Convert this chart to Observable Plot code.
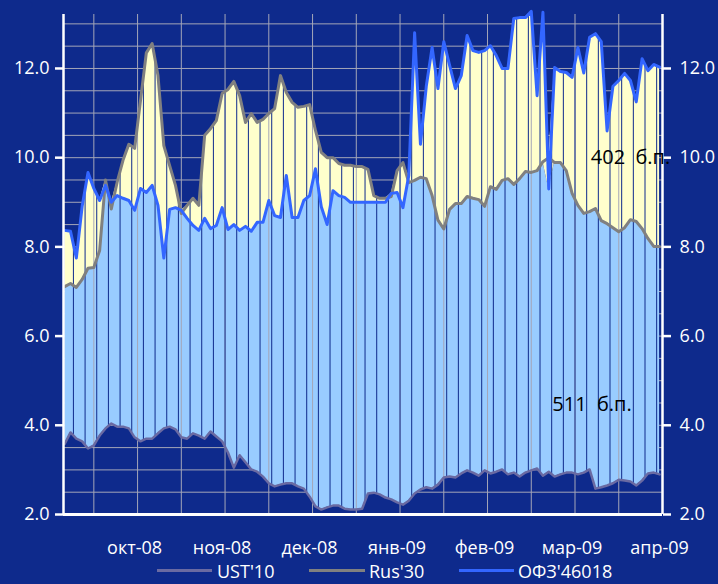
<!DOCTYPE html>
<html><head><meta charset="utf-8">
<script src="https://cdn.jsdelivr.net/npm/d3@7"></script>
<script src="https://cdn.jsdelivr.net/npm/@observablehq/plot@0.6"></script>
<style>
html,body{margin:0;padding:0;background:#0e2a8c;}
#wrap{position:relative;width:718px;height:584px;overflow:hidden;font-family:"Open Sans",sans-serif;}
#chart svg{display:block;}
#legend{position:absolute;left:0;top:560px;width:718px;height:24px;}
.sw{position:absolute;height:0;border-top:3px solid;top:9px;}
.lt{position:absolute;top:2px;color:#fff;font-size:18px;line-height:18px;white-space:nowrap;}
</style></head>
<body><div id="wrap"><div id="chart"></div><div id="legend"></div></div>
<script>
// Category axis: trading-point index; month labels and grid positions
const monthIdx = [12.5, 27.5, 42.5, 57.5, 72.5, 87.5, 102.5];
const monthLabels = ["окт-08","ноя-08","дек-08","янв-09","фев-09","мар-09","апр-09"];
const gridIdx = [5, 12.5, 20, 27.5, 35, 42.5, 50, 57.5, 65, 72.5, 80, 87.5, 95];
const yTicks = [2, 4, 6, 8, 10, 12];
const seriesNames = ["UST'10", "Rus'30", "ОФЗ'46018"];

const ust = [3.58,3.84,3.70,3.64,3.48,3.55,3.77,3.93,4.04,3.97,3.97,3.93,3.73,3.64,3.70,3.70,3.82,3.93,3.97,3.91,
3.73,3.70,3.82,3.77,3.70,3.86,3.75,3.64,3.39,3.05,3.33,3.17,3.01,2.96,2.85,2.70,2.63,2.67,2.70,2.70,
2.63,2.58,2.40,2.18,2.11,2.16,2.20,2.20,2.13,2.11,2.11,2.13,2.47,2.49,2.45,2.38,2.34,2.27,2.22,2.31,
2.47,2.56,2.61,2.58,2.67,2.83,2.85,2.83,2.92,2.99,2.94,2.87,2.99,2.92,2.96,3.01,2.90,2.94,2.85,2.94,
2.99,3.03,2.87,2.96,2.85,2.90,2.94,2.94,2.90,2.94,3.01,2.58,2.61,2.65,2.70,2.78,2.76,2.74,2.65,2.76,
2.92,2.94,2.90];
const rus = [7.11,7.18,7.09,7.27,7.52,7.54,7.92,9.50,8.85,9.45,9.94,10.30,10.21,11.28,12.35,12.56,11.84,10.27,9.82,9.38,
8.75,8.93,9.09,8.93,10.50,10.65,10.83,11.44,11.53,11.71,11.39,10.79,10.99,10.79,10.86,10.99,11.10,11.84,11.46,11.24,
11.13,11.15,11.19,10.61,10.12,10.00,10.00,9.87,9.83,9.83,9.80,9.80,9.74,9.15,9.09,9.09,9.13,9.71,9.89,9.44,
9.49,9.56,9.53,9.15,8.60,8.40,8.84,8.97,8.97,9.13,9.09,9.06,8.91,9.35,9.29,9.49,9.53,9.40,9.53,9.69,
9.67,9.71,9.91,10.00,9.89,9.89,9.71,9.20,8.93,8.75,8.79,8.86,8.59,8.52,8.43,8.34,8.43,8.61,8.57,8.41,
8.19,8.01,8.01];
const ofz = [8.37,8.35,7.75,8.91,9.67,9.31,9.04,9.38,9.00,9.15,9.09,9.04,8.82,9.31,9.22,9.38,8.93,7.75,8.84,8.88,
8.82,8.64,8.48,8.37,8.64,8.41,8.48,8.88,8.39,8.50,8.37,8.46,8.35,8.55,8.55,9.04,8.70,8.66,9.60,8.66,
8.66,9.04,9.15,9.75,8.90,8.50,9.26,9.15,9.11,9.00,9.00,9.00,9.00,9.00,9.00,9.00,9.20,9.22,8.88,9.60,
12.80,10.30,11.60,12.47,11.55,12.60,12.07,11.55,11.84,12.74,12.40,12.36,12.40,12.51,12.29,12.00,12.00,13.12,13.14,13.14,
13.28,11.39,13.26,9.30,12.02,11.93,11.91,11.80,12.47,11.90,12.70,12.78,12.60,10.60,11.60,11.73,11.89,11.73,11.25,12.22,
11.95,12.09,12.03];

const bg = "#0e2a8c";
const data = ust.map((u, i) => ({
  i, ust: u, rus: rus[i], ofz: ofz[i],
  lo: Math.min(rus[i], ofz[i]), hi: Math.max(rus[i], ofz[i])
}));
// dark separators inside the filled band, every second point (between points)
const rules = [];
for (let j = 1; j + 1 < data.length; j += 2) {
  rules.push({x: j + 0.5, y1: (ust[j] + ust[j + 1]) / 2, y2: (data[j].hi + data[j + 1].hi) / 2});
}
const n = data.length - 1;
const spread1 = Math.round((ofz[n] - rus[n]) * 100);
const spread2 = Math.round((rus[n] - ust[n]) * 100);
const notes = [
  {x: 90.2, y: 10.0, t: spread1 + "\u00a0\u00a0б.п."},
  {x: 83.6, y: 4.47, t: spread2 + "\u00a0\u00a0б.п."}
];
const yGrid = d3.range(2.5, 13.01, 0.5);

const chart = Plot.plot({
  width: 718, height: 560,
  marginLeft: 63, marginRight: 56, marginTop: 14, marginBottom: 46,
  style: {background: "transparent", fontFamily: "Open Sans", fontSize: "18px", color: "#fff"},
  x: {domain: [-0.2, 102.5], axis: null},
  y: {domain: [2, 13.21], axis: null},
  marks: [
    Plot.ruleY(yGrid, {stroke: "#a4a6b8", strokeWidth: 1}),
    Plot.areaY(data, {x: "i", y1: "ust", y2: "lo", fill: "#99ccff"}),
    Plot.areaY(data, {x: "i", y1: "lo", y2: "hi", fill: "#ffffcc"}),
    Plot.ruleX(gridIdx, {stroke: "#a4a6b8", strokeWidth: 1}),
    Plot.ruleX(rules, {x: "x", y1: "y1", y2: "y2", stroke: bg, strokeWidth: 1}),
    Plot.line(data, {x: "i", y: "ust", stroke: "#6a6aa2", strokeWidth: 2.5}),
    Plot.line(data, {x: "i", y: "rus", stroke: "#808080", strokeWidth: 3}),
    Plot.line(data, {x: "i", y: "ofz", stroke: "#3366ff", strokeWidth: 3}),
    Plot.ruleX([-0.2], {stroke: "#fff", strokeWidth: 2.5}),
    Plot.ruleX([102.5], {stroke: "#fff", strokeWidth: 2.5}),
    Plot.ruleY([2], {stroke: "#fff", strokeWidth: 3}),
    Plot.axisY({anchor: "left", ticks: yTicks, tickFormat: d => d.toFixed(1), tickSize: 8, tickPadding: 6, strokeWidth: 2.5, fontSize: 18}),
    Plot.axisY({anchor: "right", ticks: yTicks, tickFormat: d => d.toFixed(1), tickSize: 8, tickPadding: 9, strokeWidth: 2.5, fontSize: 18}),
    Plot.text(monthIdx, {x: d => d, y: 2, text: (d, k) => monthLabels[k], dy: 39, dx: -3, lineAnchor: "bottom", textAnchor: "middle", fill: "#fff", fontSize: 18}),
    Plot.text(notes, {x: "x", y: "y", text: "t", textAnchor: "start", lineAnchor: "middle", fill: "#000", fontSize: 20})
  ]
});
document.getElementById("chart").appendChild(chart);

const legend = document.getElementById("legend");
const legColors = ["#6a6aa2", "#808080", "#3366ff"];
const legPos = [[157, 55, 217], [309, 56, 369], [459, 55, 518]];
seriesNames.forEach((name, k) => {
  const sw = document.createElement("div");
  sw.className = "sw";
  sw.style.left = legPos[k][0] + "px";
  sw.style.width = legPos[k][1] + "px";
  sw.style.borderTopColor = legColors[k];
  legend.appendChild(sw);
  const t = document.createElement("div");
  t.className = "lt";
  t.style.left = legPos[k][2] + "px";
  t.textContent = name;
  legend.appendChild(t);
});
</script></body></html>
